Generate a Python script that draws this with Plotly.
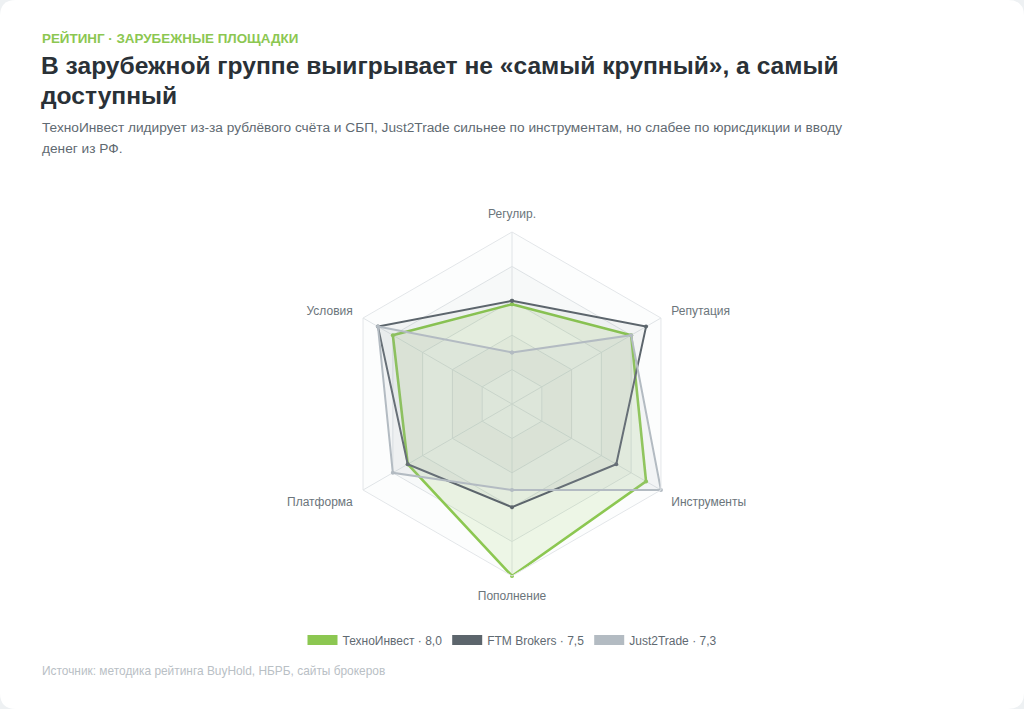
import plotly.graph_objects as go

# ---------------- data ----------------
categories = ["Регулир.", "Репутация", "Инструменты", "Пополнение", "Платформа", "Условия"]
techno = [5.8, 8, 9, 10, 7, 8]
ftm = [6, 9, 7, 6, 7, 9]
j2t = [3, 8, 10, 5, 8, 9]
series_names = ["ТехноИнвест", "FTM Brokers", "Just2Trade"]
series_scores = ["8,0", "7,5", "7,3"]
grid_levels = [2, 4, 6, 8, 10]

# ---------------- style ----------------
W, H = 1024, 709
FONT = "Liberation Sans, Arial, sans-serif"
line_colors = ["#8cc751", "#5c656c", "#b3bbc2"]
fill_colors = ["rgba(140,199,81,0.13)", "rgba(92,101,108,0.06)", "rgba(179,187,194,0.13)"]
line_widths = [2.6, 2, 2]
band_colors = ["rgba(148,163,176,0.025)", "rgba(148,163,176,0.07)"]
grid_color = "#e3e6e9"


def px(x):
    return x / W


def py(y):
    return 1 - y / H


fig = go.Figure()

# alternating grid bands
theta_closed = categories + categories[:1]
for i, lvl in enumerate(grid_levels):
    fig.add_trace(go.Scatterpolar(
        r=[lvl] * len(theta_closed), theta=theta_closed,
        mode="lines", line=dict(width=0, color="rgba(0,0,0,0)"),
        fill="toself" if i == 0 else "tonext",
        fillcolor=band_colors[i % 2],
        hoverinfo="skip", showlegend=False,
    ))

# series
for vals, name, lc, fc, lw in zip([techno, ftm, j2t], series_names, line_colors, fill_colors, line_widths):
    fig.add_trace(go.Scatterpolar(
        r=vals + vals[:1], theta=theta_closed,
        mode="lines+markers", name=name,
        line=dict(color=lc, width=lw),
        marker=dict(size=4, color=lc),
        fill="toself", fillcolor=fc,
        showlegend=False,
    ))

# legend-only entries with solid swatches
for name, score, lc in zip(series_names, series_scores, line_colors):
    fig.add_trace(go.Scatterpolar(
        r=[None], theta=[None], mode="lines",
        name=f"{name} · {score}",
        line=dict(color=lc, width=10),
        showlegend=True, hoverinfo="skip",
    ))

cx, cy, R = 512, 404, 172
fig.update_layout(
    width=W, height=H,
    margin=dict(l=0, r=0, t=0, b=0),
    paper_bgcolor="#eef1f3",
    font=dict(family=FONT, color="#5f6a72"),
    polar=dict(
        domain=dict(x=[px(cx - R), px(cx + R)], y=[py(cy + R), py(cy - R)]),
        bgcolor="rgba(0,0,0,0)",
        gridshape="linear",
        radialaxis=dict(range=[0, 10], tickvals=grid_levels, showticklabels=False,
                        ticks="", showline=False, gridcolor=grid_color, gridwidth=1),
        angularaxis=dict(rotation=90, direction="clockwise",
                         ticks="outside", ticklen=9, tickcolor="rgba(0,0,0,0)",
                         gridcolor=grid_color, linecolor=grid_color, linewidth=1,
                         tickfont=dict(size=12, color="#6b757b", family=FONT)),
    ),
    legend=dict(orientation="h", x=0.5, xanchor="center", y=py(640), yanchor="middle",
                font=dict(size=12, color="#5f6a72", family=FONT),
                itemwidth=30, bgcolor="rgba(0,0,0,0)"),
    shapes=[dict(
        type="path", xref="paper", yref="paper", layer="below",
        path=(f"M {px(16)},{py(0)} L {px(W-16)},{py(0)} Q {px(W)},{py(0)} {px(W)},{py(16)} "
              f"L {px(W)},{py(H-16)} Q {px(W)},{py(H)} {px(W-16)},{py(H)} "
              f"L {px(16)},{py(H)} Q {px(0)},{py(H)} {px(0)},{py(H-16)} "
              f"L {px(0)},{py(16)} Q {px(0)},{py(0)} {px(16)},{py(0)} Z"),
        fillcolor="#ffffff", line=dict(width=0),
    )],
    annotations=[
        dict(text="<b>РЕЙТИНГ · ЗАРУБЕЖНЫЕ ПЛОЩАДКИ</b>", x=px(40), y=py(38),
             xanchor="left", yanchor="middle", showarrow=False,
             font=dict(size=13.4, color="#8cc751", family=FONT)),
        dict(text="<b>В зарубежной группе выигрывает не «самый крупный», а самый</b>",
             x=px(39), y=py(66), xanchor="left", yanchor="middle", showarrow=False,
             font=dict(size=24.6, color="#2a3137", family=FONT)),
        dict(text="<b>доступный</b>", x=px(39), y=py(95), xanchor="left", yanchor="middle",
             showarrow=False, font=dict(size=24.6, color="#2a3137", family=FONT)),
        dict(text="ТехноИнвест лидирует из-за рублёвого счёта и СБП, Just2Trade сильнее по инструментам, но слабее по юрисдикции и вводу",
             x=px(40), y=py(128), xanchor="left", yanchor="middle", showarrow=False,
             font=dict(size=13.7, color="#5f6a72", family=FONT)),
        dict(text="денег из РФ.", x=px(40), y=py(148), xanchor="left", yanchor="middle",
             showarrow=False, font=dict(size=13.7, color="#5f6a72", family=FONT)),
        dict(text="Источник: методика рейтинга BuyHold, НБРБ, сайты брокеров",
             x=px(40), y=py(671), xanchor="left", yanchor="middle", showarrow=False,
             font=dict(size=11.9, color="#b9c0c5", family=FONT)),
    ],
)

fig.write_html("out.html")
